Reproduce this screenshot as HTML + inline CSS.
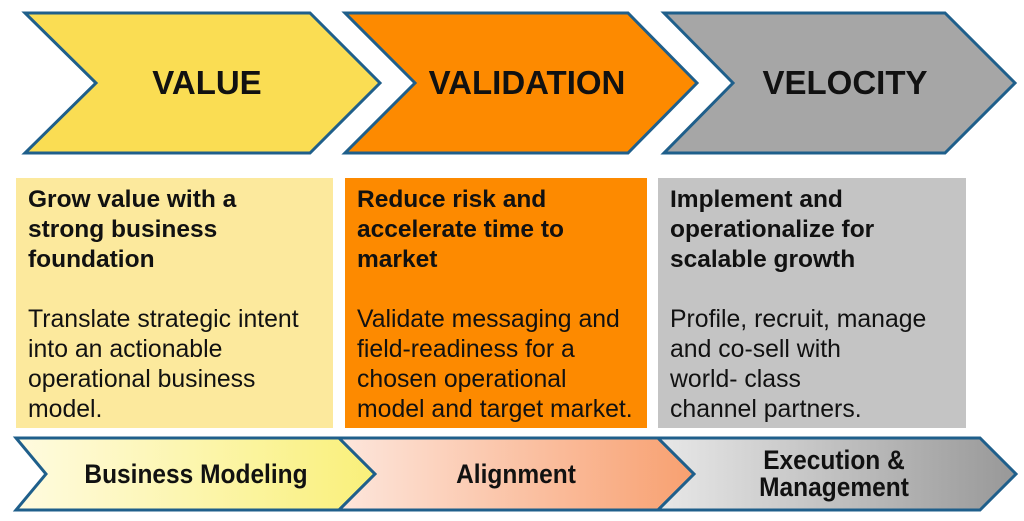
<!DOCTYPE html>
<html><head><style>
body{margin:0;width:1024px;height:521px;background:#fff;position:relative;overflow:hidden;font-family:"Liberation Sans",Arial,sans-serif}
.card{position:absolute;top:178px;height:250px;box-sizing:border-box;padding:7px 0 0 12px;font-size:24.8px;line-height:30px;color:#111;white-space:nowrap}
.card b{display:block;margin-bottom:30px;font-size:24.5px}
svg{position:absolute;left:0;top:0}
</style></head><body>
<svg width="1024" height="521">
<defs>
<linearGradient id="g1" x1="0" x2="1"><stop offset="0" stop-color="#fffbe0"/><stop offset="1" stop-color="#f9f07a"/></linearGradient>
<linearGradient id="g2" x1="0" x2="1"><stop offset="0" stop-color="#fde6dc"/><stop offset="1" stop-color="#f8a070"/></linearGradient>
<linearGradient id="g3" x1="0" x2="1"><stop offset="0" stop-color="#e8e8e8"/><stop offset="1" stop-color="#989898"/></linearGradient>
</defs>
<g stroke="#1f5f8b" stroke-width="3" stroke-linejoin="miter">
<polygon points="25,13 310,13 380,83 310,153 25,153 96,83" fill="#fadd53"/>
<polygon points="345,13 628,13 697,83 628,153 345,153 415,83" fill="#fd8a00"/>
<polygon points="664,13 945,13 1015,83 945,153 664,153 733,83" fill="#a6a6a6"/>
<polygon points="16,438 339,438 375,474 339,510 16,510 46,474" fill="url(#g1)"/>
<polygon points="339,438 658,438 694,474 658,510 339,510 375,474" fill="url(#g2)"/>
<polygon points="658,438 980,438 1016,474 980,510 658,510 694,474" fill="url(#g3)"/>
</g>
<g font-family="Liberation Sans,Arial,sans-serif" font-weight="bold" text-anchor="middle" fill="#111">
<text x="207" y="94" font-size="33">VALUE</text>
<text x="527" y="94" font-size="33">VALIDATION</text>
<text x="845" y="94" font-size="33">VELOCITY</text>
<text x="196" y="483" font-size="24.5" transform="translate(196 483) scale(1 1.1) translate(-196 -483)">Business Modeling</text>
<text x="516" y="483" font-size="24.5" transform="translate(516 483) scale(1 1.1) translate(-516 -483)">Alignment</text>
<text x="834" y="469" font-size="24.5" transform="translate(834 469) scale(1 1.1) translate(-834 -469)">Execution &amp;</text>
<text x="834" y="496" font-size="24.5" transform="translate(834 496) scale(1 1.1) translate(-834 -496)">Management</text>
</g>
</svg>
<div class="card" style="left:16px;width:317px;background:#fce99d"><b>Grow value with a<br>strong business<br>foundation</b>Translate strategic intent<br>into an actionable<br>operational business<br>model.</div>
<div class="card" style="left:345px;width:302px;background:#fd8a00"><b>Reduce risk and<br>accelerate time to<br>market</b>Validate messaging and<br>field-readiness for a<br>chosen operational<br>model and target market.</div>
<div class="card" style="left:658px;width:308px;background:#c4c4c4"><b>Implement and<br>operationalize for<br>scalable growth</b>Profile, recruit, manage<br>and co-sell with<br>world- class<br>channel partners.</div>
</body></html>
